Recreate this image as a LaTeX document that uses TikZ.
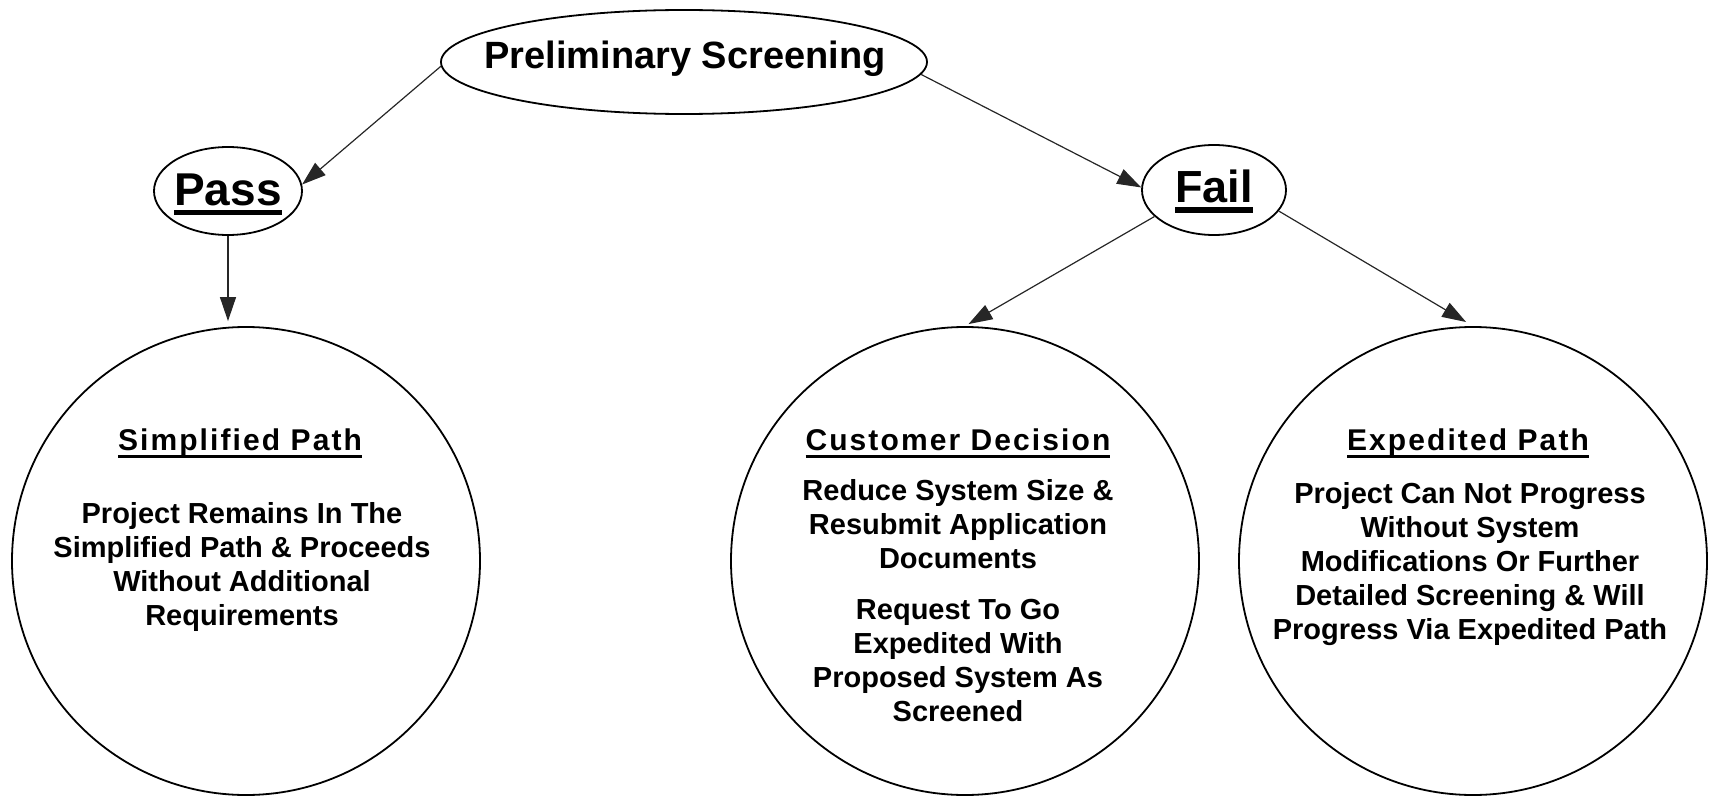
\documentclass[tikz,border=0pt]{standalone}
\usepackage{fontspec}
\setmainfont{Liberation Sans}
\newfontfamily\headfont[LetterSpace=7]{Liberation Sans}
\usetikzlibrary{shapes.geometric,arrows.meta}

% underlined text: #1 = depth of the bar below the baseline, #2 = bar thickness
\newsavebox\ulbox
\newcommand{\ulbar}[3]{\sbox\ulbox{#3}\rlap{\usebox\ulbox}\rule[-#1]{\wd\ulbox}{#2}}

\begin{document}
\begin{tikzpicture}[x=1pt,y=-1pt,
  oval/.style={ellipse,draw=black,line width=1.8pt,inner sep=0pt},
  disc/.style={circle,draw=black,line width=1.8pt,minimum size=468pt,inner sep=0pt},
  link/.style={draw=black!85,line width=1.2pt,-{Triangle[length=24pt,width=16pt]}},
  bigword/.style={inner sep=0pt,anchor=base},
  head/.style={font=\headfont\bfseries\fontsize{30}{36}\selectfont,inner sep=0pt,anchor=base},
  body/.style={font=\bfseries\fontsize{29}{34}\selectfont,align=center,inner sep=0pt,anchor=north},
]
\useasboundingbox (0,0) rectangle (1709,797);

% top level and the two outcomes
\node[oval,minimum width=486pt,minimum height=104pt] (prelim) at (684,62) {};
\node[bigword,font=\bfseries\fontsize{38}{44}\selectfont] (prelimText) at (685,69) {Preliminary Screening};

\node[oval,minimum width=148pt,minimum height=88pt] (pass) at (228,191) {};
\node[bigword,font=\bfseries\fontsize{46}{52}\selectfont] (passText) at (228,205) {\ulbar{10pt}{5pt}{Pass}};

\node[oval,minimum width=144pt,minimum height=90pt] (fail) at (1214,190) {};
\node[bigword,font=\bfseries\fontsize{45}{52}\selectfont] (failText) at (1214,203) {\ulbar{10pt}{6pt}{Fail}};

% the three paths
\node[disc] (simp) at (246,561) {};
\node[disc] (cust) at (965,561) {};
\node[disc] (expd) at (1473,561) {};

\node[head] (simpHead) at (240,450) {\ulbar{8pt}{3pt}{Simplified Path}};
\node[body] (simpBody) at (242,502) {Project Remains In The\\Simplified Path \& Proceeds\\Without Additional\\Requirements};

\node[head] (custHead) at (958,450) {\ulbar{8pt}{3pt}{Customer Decision}};
\node[body] (custBody) at (958,479) {Reduce System Size \&\\Resubmit Application\\Documents\\[17pt]Request To Go\\Expedited With\\Proposed System As\\Screened};

\node[head] (expdHead) at (1468,450) {\ulbar{8pt}{3pt}{Expedited Path}};
\node[body] (expdBody) at (1470,482) {Project Can Not Progress\\Without System\\Modifications Or Further\\Detailed Screening \& Will\\Progress Via Expedited Path};

% connectors
\draw[link] (prelim.181) -- (pass.5);
\draw[link] (prelim.-3) -- (fail.178);
\draw[link,shorten >=5pt] (pass.south) -- (pass.south |- simp.north);
\draw[link,shorten >=4pt] (fail.204) -- (cust.north);
\draw[link,shorten >=8pt] (fail.-18) -- (expd.north);
\end{tikzpicture}
\end{document}
